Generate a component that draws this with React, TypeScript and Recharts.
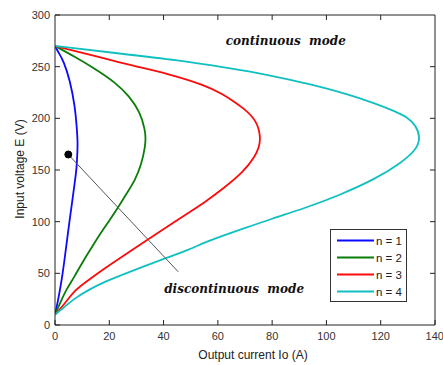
import React from 'react';
import { ComposedChart, Line, XAxis, YAxis, Legend, ReferenceDot, ReferenceLine } from 'recharts';

// Output current Io (A) and input voltage E (V) per series
const n1Current = [0, 1.2, 3.1, 5.5, 7.4, 8, 8.4, 8.2, 8, 7.4, 6.1, 4.9, 3.7, 2.5, 1, 0];
const n1Voltage = [270, 264, 256, 237, 211, 192, 176, 165, 153, 140, 115, 92, 67, 43.5, 22, 10];

const n2Current = [0, 7.4, 14.7, 22.1, 27.6, 31.3, 33.2, 33.4, 33.2, 31.9, 29.5, 26.3, 23.3, 20, 16.6, 13.5, 10.4, 7, 4.3, 2, 0];
const n2Voltage = [270, 259.5, 248, 235, 221, 206, 189, 180, 172.5, 156, 140, 127, 114, 101, 88, 75, 62, 46, 35, 22, 10];

const n3Current = [0, 13.8, 27.6, 42, 55.3, 62, 65.5, 69.4, 74.3, 75.8, 75.2, 73.7, 69.4, 62, 55.3, 49.7, 43, 33.8, 24.6, 18.4, 12.3, 7.4, 3.7, 0];
const n3Voltage = [270, 261, 251.5, 243, 232, 223, 217, 210, 198, 182, 172, 163, 148, 132, 119, 109.5, 98, 82, 66, 55, 43.5, 34, 21, 10];

const n4Current = [0, 23, 46, 63, 79, 94, 107, 118.5, 125, 130, 133, 134.7, 133, 127, 118.5, 105, 92, 80, 68, 57, 49.1, 40.5, 30.7, 24.6, 18.4, 12.3, 7.4, 3.7, 0];
const n4Voltage = [270, 263, 256, 249, 242, 233, 224, 214, 207, 201, 193, 181, 169, 156, 142, 125.7, 113, 103, 92, 82, 72.5, 64.5, 54.8, 48.4, 42, 34, 26, 18, 10];

const seriesNames = ['n = 1', 'n = 2', 'n = 3', 'n = 4'];
const seriesColors = ['#0a0aff', '#0a7d0a', '#ff0a0a', '#10c0c0'];

const xTicks = [0, 20, 40, 60, 80, 100, 120, 140];
const yTicks = [0, 50, 100, 150, 200, 250, 300];

const X_MAX = 140;
const Y_MAX = 300;
// length of the inward frame ticks on the top / right edges, in data units
const TOP_TICK_LEN = 4.8;
const RIGHT_TICK_LEN = 1.85;

// annotation: marker point and arrow end
const markerPoint = { x: 4.9, y: 165 };
const arrowEnd = { x: 45.4, y: 51.5 };
const continuousLabelPos = { x: 85, y: 274.5 };
const discontinuousLabelPos = { x: 66, y: 35 };

const toPoints = (xs: number[], ys: number[]) => xs.map((x, i) => ({ x, y: ys[i] }));

const seriesData = [
  toPoints(n1Current, n1Voltage),
  toPoints(n2Current, n2Voltage),
  toPoints(n3Current, n3Voltage),
  toPoints(n4Current, n4Voltage),
];

const axisColor = '#222';
const tickStyle = { fontSize: 11, fill: '#333', fontFamily: 'Liberation Sans, Arial, sans-serif' };

const LegendBox = (props: any) => {
  const payload = (props.payload || []).filter((e: any) => seriesNames.includes(e.value));
  return (
    <div
      style={{
        width: 77,
        height: 73,
        boxSizing: 'border-box',
        border: '1px solid #333',
        background: '#fff',
        paddingTop: 2,
        fontFamily: 'Liberation Sans, Arial, sans-serif',
        fontSize: 11.5,
        color: '#222',
      }}
    >
      {payload.map((entry: any, i: number) => (
        <div key={i} style={{ height: 17, display: 'flex', alignItems: 'center' }}>
          <svg width={44} height={17} style={{ display: 'block' }}>
            <line x1={6} x2={43} y1={8.5} y2={8.5} stroke={entry.color} strokeWidth={2} />
          </svg>
          <span style={{ marginLeft: 1 }}>{entry.value}</span>
        </div>
      ))}
    </div>
  );
};

const serifItalic = {
  fontFamily: 'DejaVu Serif, serif',
  fontStyle: 'italic' as const,
  fontWeight: 'bold' as const,
  fontSize: 12,
  fill: '#111',
};

export default function App() {
  return (
    <div style={{ position: 'absolute', left: 0, top: 0, background: '#fff' }}>
      <ComposedChart width={443} height={365} margin={{ top: 15, right: 8, bottom: 0, left: 0 }}>
        <XAxis
          type="number"
          dataKey="x"
          domain={[0, X_MAX]}
          ticks={xTicks}
          orientation="bottom"
          height={40}
          tickSize={-5}
          tickMargin={12}
          stroke={axisColor}
          tick={tickStyle}
          tickLine={{ stroke: axisColor }}
          axisLine={{ stroke: axisColor }}
          allowDataOverflow
          label={{
            content: (p: any) => (
              <text
                x={p.viewBox.x + p.viewBox.width / 2 + 8}
                y={p.viewBox.y + 34}
                textAnchor="middle"
                fontSize={12}
                fill="#222"
                fontFamily="Liberation Sans, Arial, sans-serif"
              >
                Output current Io (A)
              </text>
            ),
          }}
        />
        <YAxis
          type="number"
          dataKey="y"
          domain={[0, Y_MAX]}
          ticks={yTicks}
          width={55}
          tickSize={-5}
          tickMargin={10}
          stroke={axisColor}
          tick={tickStyle}
          allowDataOverflow
          label={{
            content: (p: any) => {
              const cx = p.viewBox.x + 20;
              const cy = p.viewBox.y + p.viewBox.height / 2 - 1;
              return (
                <text
                  x={cx}
                  y={cy}
                  transform={`rotate(-90, ${cx}, ${cy})`}
                  textAnchor="middle"
                  dominantBaseline="central"
                  fontSize={12}
                  fill="#222"
                  fontFamily="Liberation Sans, Arial, sans-serif"
                >
                  Input voltage E (V)
                </text>
              );
            },
          }}
        />
        {/* top and right frame edges */}
        <ReferenceLine y={Y_MAX} stroke={axisColor} ifOverflow="visible" />
        <ReferenceLine x={X_MAX} stroke={axisColor} ifOverflow="visible" />
        {xTicks.slice(1, -1).map((t) => (
          <ReferenceLine
            key={`tt${t}`}
            segment={[
              { x: t, y: Y_MAX },
              { x: t, y: Y_MAX - TOP_TICK_LEN },
            ]}
            stroke={axisColor}
            ifOverflow="visible"
          />
        ))}
        {yTicks.slice(1, -1).map((t) => (
          <ReferenceLine
            key={`rt${t}`}
            segment={[
              { x: X_MAX, y: t },
              { x: X_MAX - RIGHT_TICK_LEN, y: t },
            ]}
            stroke={axisColor}
            ifOverflow="visible"
          />
        ))}
        {seriesData.map((d, i) => (
          <Line
            key={seriesNames[i]}
            data={d}
            dataKey="y"
            name={seriesNames[i]}
            type="basis"
            stroke={seriesColors[i]}
            strokeWidth={1.8}
            dot={false}
            activeDot={false}
            isAnimationActive={false}
          />
        ))}
        <ReferenceLine segment={[markerPoint, arrowEnd]} stroke="#555" strokeWidth={1} ifOverflow="visible" />
        <ReferenceDot x={markerPoint.x} y={markerPoint.y} r={3.5} fill="#000" stroke="#000" />
        <ReferenceDot
          x={continuousLabelPos.x}
          y={continuousLabelPos.y}
          r={0}
          fill="none"
          stroke="none"
          label={{
            content: (p: any) => (
              <text
                x={p.viewBox.x + p.viewBox.width / 2}
                y={p.viewBox.y + p.viewBox.height / 2}
                textAnchor="middle"
                dominantBaseline="central"
                style={serifItalic}
              >
                continuous&#160;&#160;mode
              </text>
            ),
          }}
        />
        <ReferenceDot
          x={discontinuousLabelPos.x}
          y={discontinuousLabelPos.y}
          r={0}
          fill="none"
          stroke="none"
          label={{
            content: (p: any) => (
              <text
                x={p.viewBox.x + p.viewBox.width / 2}
                y={p.viewBox.y + p.viewBox.height / 2}
                textAnchor="middle"
                dominantBaseline="central"
                style={serifItalic}
              >
                discontinuous&#160;&#160;mode
              </text>
            ),
          }}
        />
        <Legend
          layout="vertical"
          align="center"
          verticalAlign="middle"
          content={<LegendBox />}
          wrapperStyle={{ left: 330, top: 229, width: 77, height: 73 }}
        />
      </ComposedChart>
    </div>
  );
}
